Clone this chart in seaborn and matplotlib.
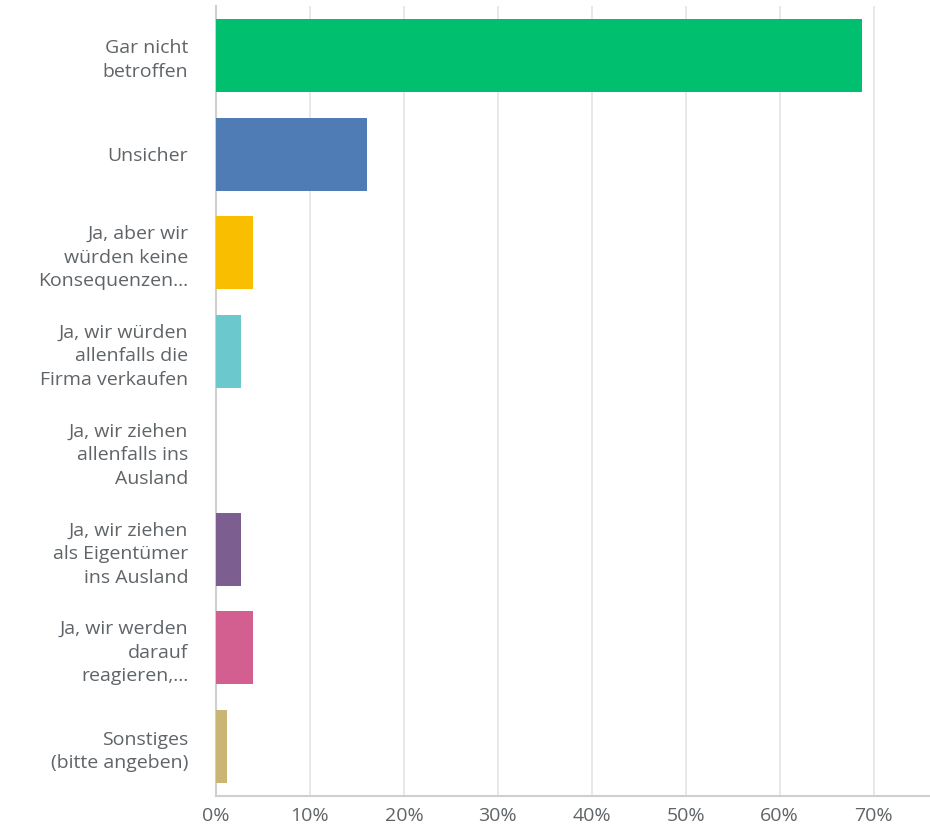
import matplotlib
matplotlib.use('Agg')
from matplotlib import pyplot as plt
from matplotlib import ticker as ticker
import pandas as pd
import seaborn as sns

sns.set_style('white')
plt.rcParams['font.family'] = ['Open Sans', 'DejaVu Sans']

categories = [
    'Gar nicht\nbetroffen',
    'Unsicher',
    'Ja, aber wir\nwürden keine\nKonsequenzen...',
    'Ja, wir würden\nallenfalls die\nFirma verkaufen',
    'Ja, wir ziehen\nallenfalls ins\nAusland',
    'Ja, wir ziehen\nals Eigentümer\nins Ausland',
    'Ja, wir werden\ndarauf\nreagieren,...',
    'Sonstiges\n(bitte angeben)',
]
percent = [68.8, 16.1, 3.9, 2.7, 0.0, 2.7, 3.9, 1.2]
bar_colors = ['#00bf6f', '#507cb6', '#f9be00', '#6bc8cd', '#ff8b4f',
              '#7d5e90', '#d25f90', '#c9b674']

df = pd.DataFrame({'answer': categories, 'percent': percent})

fig = plt.figure(figsize=(9.3, 8.33), dpi=100)
ax = fig.add_axes([216 / 930, 1 - 796 / 833, 714 / 930, 790 / 833])

sns.barplot(data=df, x='percent', y='answer', hue='answer', palette=bar_colors,
            legend=False, width=0.74, saturation=1, linewidth=0, ax=ax, zorder=3)

ax.set_xlim(0, 76)
ax.set_ylim(7.5, -0.5)
ax.xaxis.set_major_locator(ticker.FixedLocator([0, 10, 20, 30, 40, 50, 60, 70]))
ax.xaxis.set_major_formatter(ticker.FuncFormatter(lambda v, p: '%d%%' % v))
ax.grid(True, axis='x', color='#e4e4e4', linewidth=1.2, zorder=0)
ax.set(xlabel='', ylabel='')

for s in ['top', 'right']:
    ax.spines[s].set_visible(False)
ax.spines['left'].set_color('#cfcfcf')
ax.spines['left'].set_linewidth(1.5)
ax.spines['bottom'].set_color('#cfcfcf')
ax.spines['bottom'].set_linewidth(1.5)

ax.tick_params(axis='both', length=0, labelsize=14, colors='#5f6468')
ax.tick_params(axis='x', pad=8)
ax.tick_params(axis='y', pad=20)
for lab in ax.get_yticklabels():
    lab.set_horizontalalignment('right')
    lab.set_multialignment('right')
    lab.set_linespacing(1.4)

plt.savefig('out.png', dpi=100)
